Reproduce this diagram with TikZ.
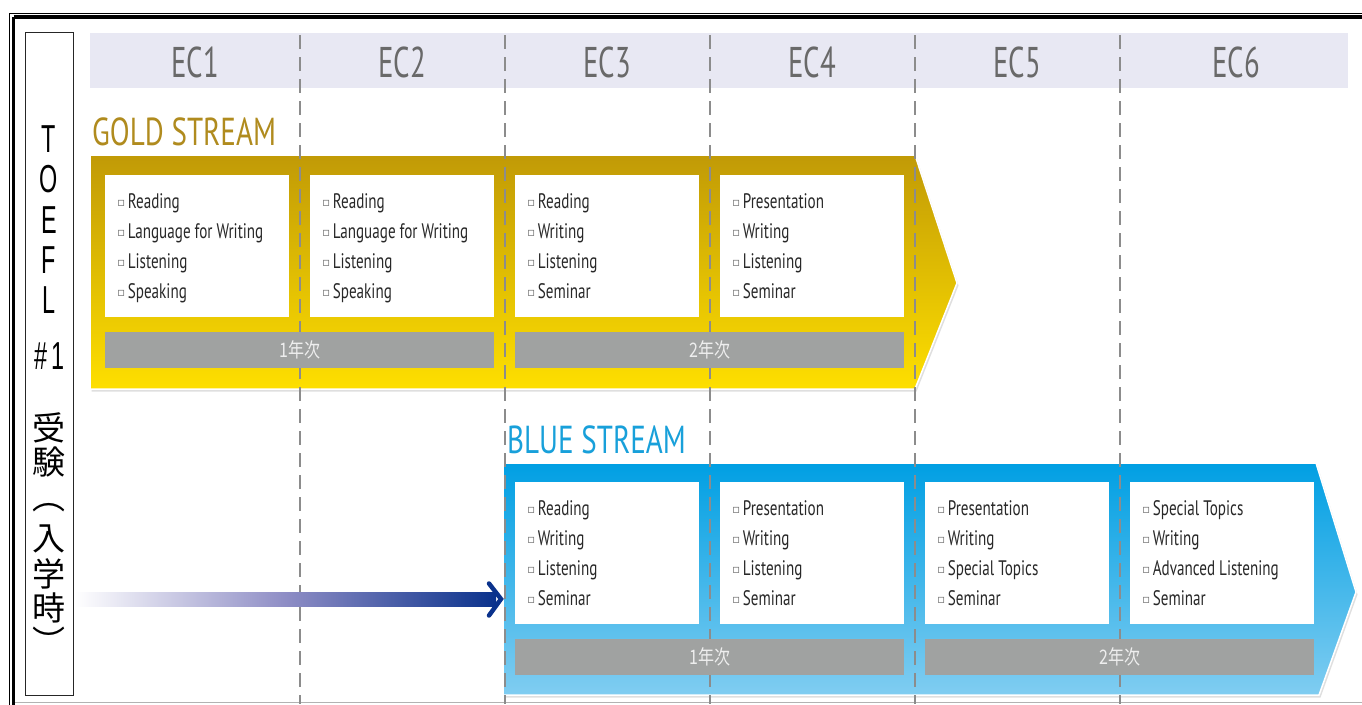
\documentclass[tikz,border=0pt]{standalone}
\usepackage{fontspec}
\setmainfont{PT Sans}
\newfontfamily\condf[FakeStretch=0.72]{PT Sans}
\newfontfamily\headf[FakeStretch=0.745]{PT Sans}
\newfontfamily\ecf[FakeStretch=0.67]{PT Sans}
\newfontfamily\toeflf[FakeStretch=0.6]{Liberation Sans}
\newfontfamily\jpf{Noto Sans CJK JP}
\newfontfamily\jpbarf[FakeStretch=0.8]{Noto Sans CJK JP}
\newfontfamily\symf{DejaVu Sans}
\usetikzlibrary{shadows}
\definecolor{bandcol}{RGB}{232,232,243}
\definecolor{ectext}{RGB}{105,105,105}
\definecolor{dashcol}{RGB}{140,140,140}
\definecolor{goldhead}{RGB}{176,139,30}
\definecolor{bluehead}{RGB}{24,160,218}
\definecolor{goldtop}{RGB}{193,154,6}
\definecolor{goldbot}{RGB}{254,223,0}
\definecolor{bluetop}{RGB}{0,159,227}
\definecolor{bluebot}{RGB}{128,205,241}
\definecolor{barcol}{RGB}{160,162,161}
\definecolor{bartext}{RGB}{238,238,238}
\definecolor{txtgray}{RGB}{40,40,40}
\definecolor{bulgray}{RGB}{110,110,110}
\definecolor{lavender}{RGB}{142,141,197}
\definecolor{navy}{RGB}{10,50,140}
\newcommand\bul{\raisebox{1.5pt}{\symf\fontsize{12}{12}\selectfont\textcolor{bulgray}{▫}}\hspace{2.5pt}}
\newcommand\courselist[2]{%
  \foreach \t [count=\i] in {#2}{%
    \node[itemtxt] (#1-\i) at ([xshift=12pt,yshift={-33pt-(\i-1)*30pt}]#1.north west) {\bul\t};}}
\begin{document}
\begin{tikzpicture}[x=1pt,y=-1pt,
  ectxt/.style={anchor=base, inner sep=0pt, text=ectext, font=\ecf\fontsize{43}{43}\selectfont},
  ecdash/.style={draw=dashcol, line width=1.2pt, dash pattern=on 14pt off 8pt},
  headtxt/.style={anchor=base west, inner sep=0pt, font=\headf\fontsize{39}{39}\selectfont},
  whitebox/.style={fill=white, minimum width=184pt, minimum height=142pt, inner sep=0pt, anchor=north west},
  barbox/.style={fill=barcol, minimum height=36pt, inner sep=0pt, anchor=north west, text=bartext, font=\jpbarf\fontsize{20}{20}\selectfont},
  itemtxt/.style={anchor=base west, inner sep=0pt, text=txtgray, font=\condf\fontsize{21}{21}\selectfont},
  vtxt/.style={anchor=center, inner sep=0pt, text=black, font=\toeflf\fontsize{39}{39}\selectfont},
  vjp/.style={anchor=center, inner sep=0pt, text=black, font=\jpf\fontsize{33}{33}\selectfont},
  streamarrow/.style={draw=white, line width=1.5pt, line join=miter, drop shadow={shadow xshift=1.5pt, shadow yshift=-2.5pt, opacity=0.25}}
]
\useasboundingbox (0,0) rectangle (1362,704);
\clip (0,0) rectangle (1362,704);
\fill[white] (0,0) rectangle (1362,704);
% outer frame
\draw[line width=1pt] (9,13.3) -- (1380,13.3);
\draw[line width=1pt] (9,13.3) -- (9,720);
\draw[line width=3.6pt] (13.5,17) -- (1380,17);
\draw[line width=3.6pt] (13.5,17) -- (13.5,720);
\draw[line width=1.5pt, draw=black!30] (15,702.5) -- (1380,702.5);
% TOEFL box
\node[draw=black!85, line width=1.2pt, minimum width=48pt, minimum height=663pt, inner sep=0pt, anchor=north west] (toeflbox) at (25,32) {};
\node[vtxt] (tT) at (49,139) {T};
\node[vtxt] (tO) at (49,179) {O};
\node[vtxt] (tE) at (49,220) {E};
\node[vtxt] (tF) at (49,260) {F};
\node[vtxt] (tL) at (49,300) {L};
\node[vtxt] (tN) at (50,356) {\#\hspace{4pt}1};
\node[vjp] (j1) at (49,428) {受};
\node[vjp] (j2) at (49,462) {験};
\node[vjp] (j3) at (49,508) {︵};
\node[vjp] (j4) at (49,539) {入};
\node[vjp] (j5) at (49,574) {学};
\node[vjp] (j6) at (49,608) {時};
\node[vjp] (j7) at (49,641) {︶};
% header band
\node[fill=bandcol, minimum width=1258pt, minimum height=55pt, inner sep=0pt, anchor=north west] (band) at (90,33) {};
\node[ectxt] (ec1) at (195,77) {EC1};
\node[ectxt] (ec2) at (402,77) {EC2};
\node[ectxt] (ec3) at (607,77) {EC3};
\node[ectxt] (ec4) at (812,77) {EC4};
\node[ectxt] (ec5) at (1017,77) {EC5};
\node[ectxt] (ec6) at (1236,77) {EC6};
% stream arrows
\path[streamarrow, top color=goldtop, bottom color=goldbot]
  (90,155) -- (915,155) -- (957,283) -- (915,389) -- (90,389) -- cycle;
\path[streamarrow, top color=bluetop, bottom color=bluebot]
  (503,463) -- (1316,463) -- (1356,592) -- (1319,695) -- (503,695) -- cycle;
% dashed column separators
\foreach \x in {300,505,710,915,1120} \draw[ecdash] (\x,35) -- (\x,704);
% headings
\node[headtxt, text=goldhead] (goldh) at (92,145) {GOLD STREAM};
\node[headtxt, text=bluehead] (blueh) at (507,453) {BLUE STREAM};
% gold boxes
\node[whitebox] (g1) at (105,175) {};
\node[whitebox] (g2) at (310,175) {};
\node[whitebox] (g3) at (515,175) {};
\node[whitebox] (g4) at (720,175) {};
\courselist{g1}{Reading,Language for Writing,Listening,Speaking}
\courselist{g2}{Reading,Language for Writing,Listening,Speaking}
\courselist{g3}{Reading,Writing,Listening,Seminar}
\courselist{g4}{Presentation,Writing,Listening,Seminar}
\node[barbox, minimum width=389pt] (gy1) at (105,332) {1年次};
\node[barbox, minimum width=389pt] (gy2) at (515,332) {2年次};
% blue boxes
\node[whitebox] (b1) at (515,482) {};
\node[whitebox] (b2) at (720,482) {};
\node[whitebox] (b3) at (925,482) {};
\node[whitebox] (b4) at (1130,482) {};
\courselist{b1}{Reading,Writing,Listening,Seminar}
\courselist{b2}{Presentation,Writing,Listening,Seminar}
\courselist{b3}{Presentation,Writing,Special Topics,Seminar}
\courselist{b4}{Special Topics,Writing,Advanced Listening,Seminar}
\node[barbox, minimum width=389pt] (by1) at (515,639) {1年次};
\node[barbox, minimum width=389pt] (by2) at (925,639) {2年次};
% entry arrow
\coordinate (entry) at (75,599);
\coordinate (entryend) at (496,599);
\coordinate (entrytip) at (501,599);
\path[left color=white, right color=navy, middle color=lavender]
  ([yshift=7pt]entry) rectangle ([yshift=-7pt]entryend);
\draw[navy, line width=4.5pt, line join=miter, line cap=round]
  ([xshift=-12pt,yshift=15.5pt]entrytip) -- (entrytip) -- ([xshift=-12pt,yshift=-16.5pt]entrytip);
\end{tikzpicture}
\end{document}
